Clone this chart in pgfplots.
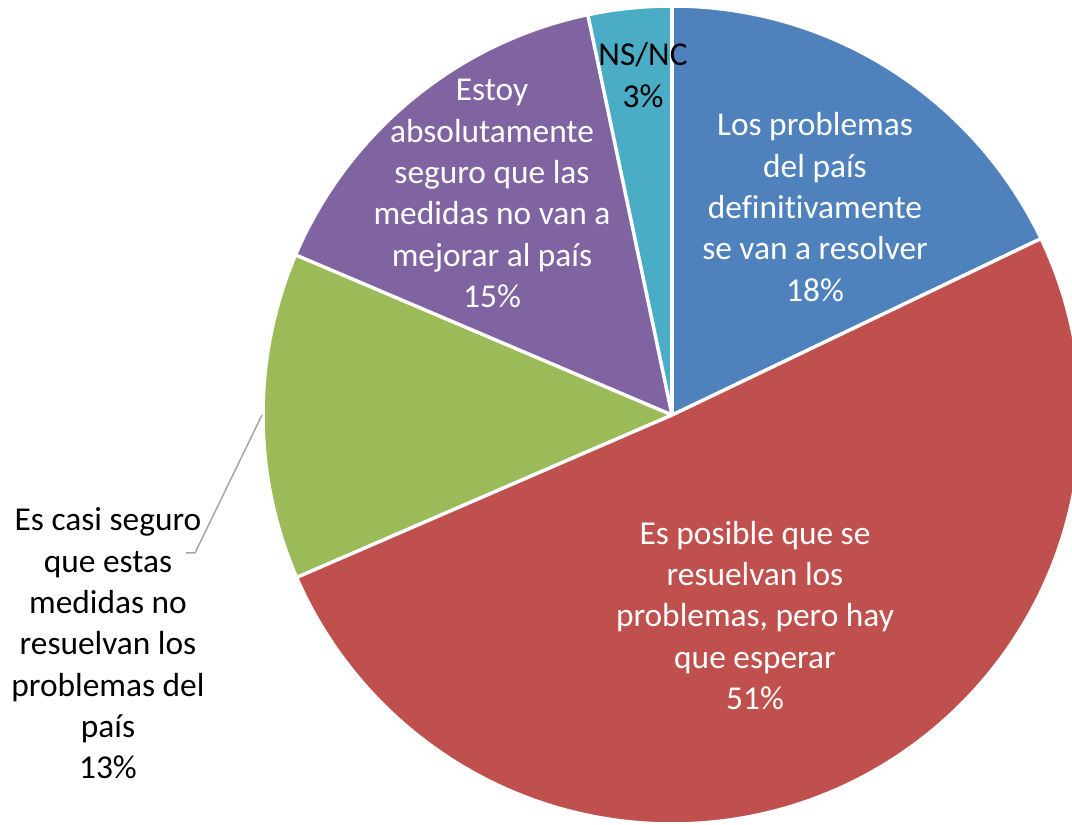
\documentclass[border=0pt]{standalone}
\usepackage{pgfplots}
\pgfplotsset{compat=1.18}
\usepackage{fontspec}
\setmainfont{Carlito}[Ligatures=NoCommon]
\definecolor{pblue}{HTML}{4F81BD}
\definecolor{pred}{HTML}{C0504D}
\definecolor{pgreen}{HTML}{9BBB59}
\definecolor{ppurple}{HTML}{8064A2}
\definecolor{pteal}{HTML}{4BACC6}
% slice: #1 cumulative percent before, #2 value (percent), #3 colour
\newcommand\pieslice[3]{%
  \fill[#3] (axis cs:672,410) -- ++({90-3.6*(#1)}:409bp)
     arc[start angle={90-3.6*(#1)}, end angle={90-3.6*(#1+#2)}, radius=409bp] -- cycle;
}
\newcommand\pieedge[1]{%
  \draw[white, line width=3.5bp] (axis cs:672,410) -- ++({90-3.6*(#1)}:409bp);
}
\begin{document}
\begin{tikzpicture}
\begin{axis}[name=ax, scale only axis, width=1072bp, height=825bp,
  xmin=0, xmax=1072, ymin=0, ymax=825, hide axis, clip=false]
% values: 17.9, 50.6, 12.9, 15.3, 3.3
\pieslice{0}{17.9}{pblue}
\pieslice{17.9}{50.6}{pred}
\pieslice{68.5}{12.9}{pgreen}
\pieslice{81.4}{15.3}{ppurple}
\pieslice{96.7}{3.3}{pteal}
\pieedge{0}\pieedge{17.9}\pieedge{68.5}\pieedge{81.4}\pieedge{96.7}
\draw[white, line width=3.5bp] (axis cs:672,410) circle[radius=409bp];
\draw[gray!70, line width=1.5bp] (axis cs:186,272) -- (axis cs:195,272) -- (axis cs:262,410);
\begin{scope}[every node/.style={align=center, font=\fontsize{33.5}{41.5}\selectfont}]
\node[white] at (axis cs:815,618) {Los problemas\\del país\\definitivamente\\se van a resolver\\18\%};
\node[white] at (axis cs:755,209.5) {Es posible que se\\resuelvan los\\problemas, pero hay\\que esperar\\51\%};
\node[white] at (axis cs:492,631.5) {Estoy\\absolutamente\\seguro que las\\medidas no van a\\mejorar al país\\15\%};
\node[black] at (axis cs:643,750) {NS/NC\\3\%};
\node[black] at (axis cs:108,181.5) {Es casi seguro\\que estas\\medidas no\\resuelvan los\\problemas del\\país\\13\%};
\end{scope}
\end{axis}
\pgfresetboundingbox
\path[use as bounding box] (ax.south west) rectangle (ax.north east);
\end{tikzpicture}
\end{document}
